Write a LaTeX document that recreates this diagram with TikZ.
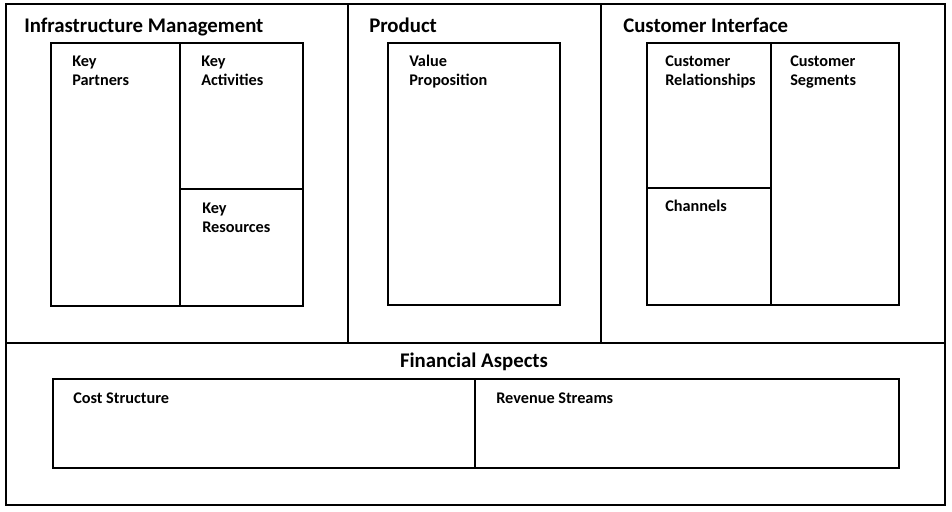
\documentclass[tikz,border=0pt]{standalone}
\usepackage{fontspec}
\setmainfont{Carlito}
\begin{document}
\begin{tikzpicture}[x=0.75pt,y=-0.75pt,
  frame/.style={draw=black,line width=1pt},
  box/.style={draw=black,line width=1pt,anchor=north west,inner sep=0pt,outer sep=0pt},
  title/.style={font=\fontsize{15.6}{18}\selectfont\bfseries,anchor=base west,inner sep=0pt},
  lbl/.style={font=\fontsize{12.2}{13.7}\selectfont\bfseries,anchor=base west,align=left,inner sep=0pt}]
\useasboundingbox (0,0) rectangle (952,511);
\fill[white] (0,0) rectangle (952,511);
% outer frame and dividers
\node[box,minimum width=939*0.75pt,minimum height=501*0.75pt] (outer) at (6,4) {};
\coordinate (d1t) at (348,4); \coordinate (d1b) at (348,343);
\coordinate (d2t) at (601,4); \coordinate (d2b) at (601,343);
\coordinate (hl) at (6,343); \coordinate (hr) at (945,343);
\draw[frame] (d1t) -- (d1b);
\draw[frame] (d2t) -- (d2b);
\draw[frame] (hl) -- (hr);
% titles
\node[title] (t1) at (24,32) {Infrastructure Management};
\node[title] (t2) at (369,32) {Product};
\node[title] (t3) at (623,32) {Customer Interface};
\node[title,anchor=base] (t4) at (474,367) {Financial Aspects};
% infrastructure boxes
\node[box,minimum width=129*0.75pt,minimum height=263*0.75pt] (kp) at (51,43) {};
\node[box,minimum width=123*0.75pt,minimum height=146*0.75pt] (ka) at (180,43) {};
\node[box,minimum width=123*0.75pt,minimum height=117*0.75pt] (kr) at (180,189) {};
\node[lbl] (kpl) at (72,85) {Key\\Partners};
\node[lbl] (kal) at (201,85) {Key\\Activities};
\node[lbl] (krl) at (202,232) {Key\\Resources};
% product
\node[box,minimum width=172*0.75pt,minimum height=262*0.75pt] (vp) at (388,43) {};
\node[lbl] (vpl) at (409,85) {Value\\Proposition};
% customer interface
\node[box,minimum width=124*0.75pt,minimum height=145*0.75pt] (cr) at (647,43) {};
\node[box,minimum width=124*0.75pt,minimum height=117*0.75pt] (ch) at (647,188) {};
\node[box,minimum width=128*0.75pt,minimum height=262*0.75pt] (cs) at (771,43) {};
\node[lbl] (crl) at (665,85) {Customer\\Relationships};
\node[lbl] (chl) at (665,211) {Channels};
\node[lbl] (csl) at (790,85) {Customer\\Segments};
% financial
\node[box,minimum width=422*0.75pt,minimum height=89*0.75pt] (cst) at (53,379) {};
\node[box,minimum width=424*0.75pt,minimum height=89*0.75pt] (rev) at (475,379) {};
\node[lbl] (cstl) at (73,403) {Cost Structure};
\node[lbl] (revl) at (496,403) {Revenue Streams};
\end{tikzpicture}
\end{document}
